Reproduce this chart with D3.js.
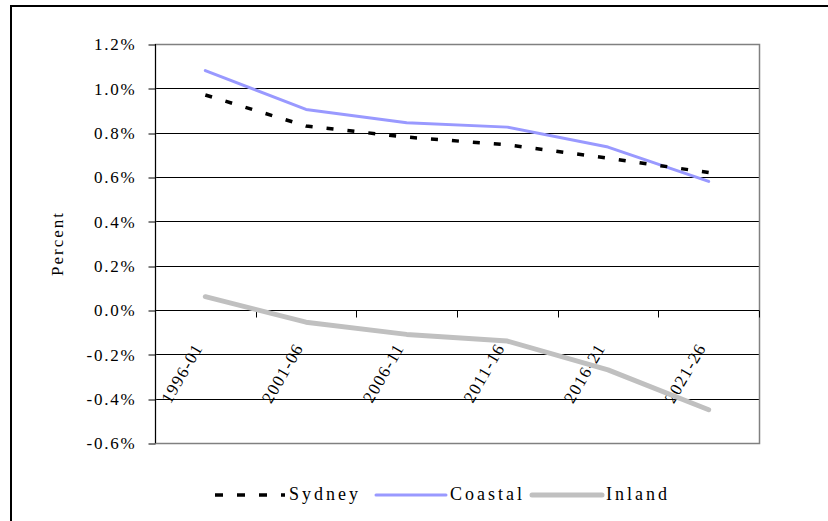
<!DOCTYPE html>
<html>
<head>
<meta charset="utf-8">
<script src="https://cdn.jsdelivr.net/npm/d3@7.9.0/dist/d3.min.js"></script>
<style>
  body { margin: 0; background: #fff; }
  svg text { font-family: "Liberation Serif", "Times New Roman", serif; }
</style>
</head>
<body>
<div id="chart"></div>
<script>
const categories = ["1996-01", "2001-06", "2006-11", "2011-16", "2016-21", "2021-26"];
const sydney = [0.97, 0.83, 0.78, 0.745, 0.685, 0.62];
const coastal = [1.08, 0.905, 0.845, 0.825, 0.735, 0.58];
const inland = [0.06, -0.055, -0.11, -0.14, -0.27, -0.45];
const yTicks = [1.2, 1.0, 0.8, 0.6, 0.4, 0.2, 0.0, -0.2, -0.4, -0.6];

const series = [
  { name: "Sydney", values: sydney, color: "#000000", width: 3.5, dash: "7,14" },
  { name: "Coastal", values: coastal, color: "#9999ff", width: 3, dash: null },
  { name: "Inland", values: inland, color: "#c0c0c0", width: 5, dash: null },
];

const width = 828;
const height = 521;
const plot = { left: 155, right: 759, top: 44, bottom: 443 };
const serif = '"Liberation Serif", "Times New Roman", serif';

const svg = d3.select("#chart")
  .append("svg")
  .attr("width", width)
  .attr("height", height)
  .attr("font-family", serif);

// outer chart frame (runs off the right/bottom of the picture)
svg.append("rect")
  .attr("x", 11).attr("y", 6)
  .attr("width", 900).attr("height", 600)
  .attr("fill", "none")
  .attr("stroke", "#000")
  .attr("stroke-width", 2);

const x = d3.scaleBand().domain(categories).range([plot.left, plot.right]);
const y = d3.scaleLinear().domain([-0.6, 1.2]).range([plot.bottom, plot.top]);

const fmt = (v) => (Math.abs(v) < 1e-9 ? "0.0" : v.toFixed(1)) + "%";

// gridlines
svg.append("g")
  .selectAll("line")
  .data(yTicks)
  .join("line")
  .attr("x1", plot.left).attr("x2", plot.right)
  .attr("y1", (d) => Math.round(y(d)) + 0.5)
  .attr("y2", (d) => Math.round(y(d)) + 0.5)
  .attr("stroke", "#000")
  .attr("stroke-width", 1);

// plot area border
svg.append("rect")
  .attr("x", plot.left + 0.5).attr("y", Math.round(plot.top) + 0.5)
  .attr("width", plot.right - plot.left)
  .attr("height", plot.bottom - plot.top)
  .attr("fill", "none")
  .attr("stroke", "#808080")
  .attr("stroke-width", 1.5);

// y axis
const yAxis = svg.append("g")
  .attr("transform", `translate(${plot.left + 0.5},0)`)
  .call(d3.axisLeft(y).tickValues(yTicks).tickFormat(fmt).tickSize(7).tickPadding(12))
  .attr("font-family", serif);
yAxis.select(".domain").attr("stroke", "#000").attr("d", `M0,${plot.top}V${plot.bottom}`);
yAxis.selectAll(".tick line").attr("stroke", "#000")
  .attr("transform", (d) => `translate(0,${Math.round(y(d)) + 0.5 - y(d)})`);
yAxis.selectAll(".tick text")
  .attr("fill", "#000")
  .style("font-size", "17px")
  .style("letter-spacing", "1.8px")
  .attr("dy", "0.35em");

// y title
svg.append("text")
  .attr("transform", `translate(63,${(plot.top + plot.bottom) / 2}) rotate(-90)`)
  .attr("text-anchor", "middle")
  .style("font-size", "17px")
  .style("letter-spacing", "2px")
  .text("Percent");

// x axis at zero
const y0 = Math.round(y(0)) + 0.5;
const xg = svg.append("g");
xg.append("line")
  .attr("x1", plot.left).attr("x2", plot.right)
  .attr("y1", y0).attr("y2", y0)
  .attr("stroke", "#000");
const boundaries = categories.map((c) => x(c)).concat([plot.right]);
xg.selectAll(".tk")
  .data(boundaries)
  .join("line")
  .attr("class", "tk")
  .attr("x1", (d) => Math.round(d) + 0.5).attr("x2", (d) => Math.round(d) + 0.5)
  .attr("y1", y0).attr("y2", y0 + 7)
  .attr("stroke", "#000");
xg.selectAll(".lbl")
  .data(categories)
  .join("text")
  .attr("class", "lbl")
  .attr("transform", (d) => `translate(${x(d) + x.bandwidth() / 2 - 2},${y0 + 37}) rotate(-60)`)
  .attr("text-anchor", "end")
  .style("font-size", "17px")
  .style("letter-spacing", "1.3px")
  .text((d) => d);

// lines
const line = d3.line()
  .x((d, i) => x(categories[i]) + x.bandwidth() / 2)
  .y((d) => y(d));

svg.append("g")
  .selectAll("path")
  .data(series.slice().reverse())
  .join("path")
  .attr("d", (s) => line(s.values))
  .attr("fill", "none")
  .attr("stroke", (s) => s.color)
  .attr("stroke-width", (s) => s.width)
  .attr("stroke-dasharray", (s) => s.dash)
  .attr("stroke-linecap", (s) => (s.dash ? "butt" : "round"))
  .attr("stroke-linejoin", "round");

// legend
const legendY = 495;
const legendX = [215, 376, 532];
const legendLen = 70;
const leg = svg.append("g");
series.forEach((s, i) => {
  const g = leg.append("g").attr("transform", `translate(${legendX[i]},${legendY})`);
  g.append("line")
    .attr("x1", 0).attr("x2", legendLen)
    .attr("y1", 0).attr("y2", 0)
    .attr("stroke", s.color)
    .attr("stroke-width", s.width)
    .attr("stroke-dasharray", s.dash ? "8,14" : null)
    .attr("stroke-linecap", s.dash ? "butt" : "round");
  g.append("text")
    .attr("x", legendLen + 4)
    .attr("y", 5)
    .style("font-size", "18px")
    .style("letter-spacing", "3px")
    .text(s.name);
});
</script>
</body>
</html>
